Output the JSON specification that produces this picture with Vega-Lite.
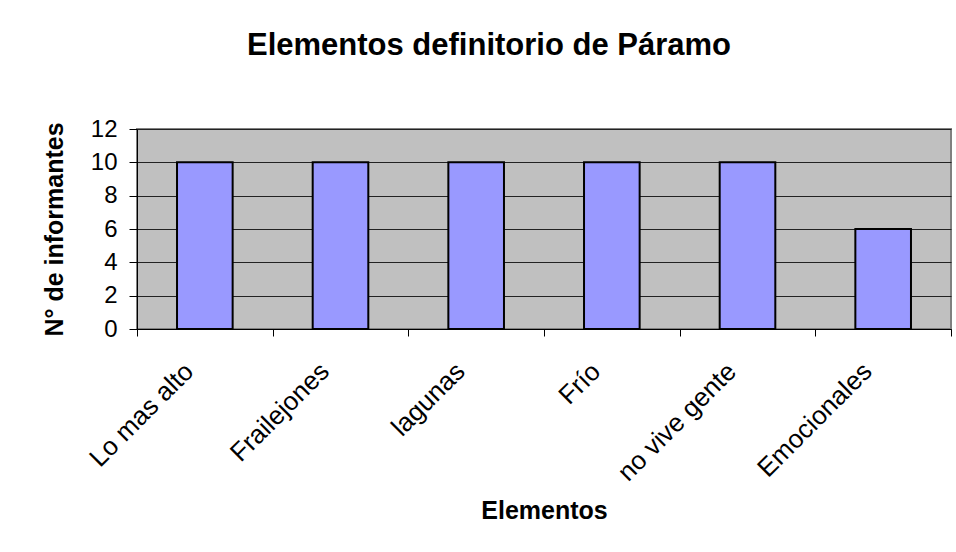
{
  "$schema": "https://vega.github.io/schema/vega-lite/v6.json",
  "width": 814,
  "height": 200,
  "autosize": {"type": "none"},
  "padding": {"left": 137, "top": 129, "right": 5, "bottom": 223},
  "background": "white",
  "title": {
    "text": "Elementos definitorio de Páramo",
    "font": "Liberation Sans",
    "fontSize": 31,
    "fontWeight": "bold",
    "color": "black",
    "anchor": "middle",
    "dx": -55,
    "offset": 31,
    "baseline": "alphabetic"
  },
  "data": {
    "values": [
      {"Elemento": "Lo mas alto", "Informantes": 10},
      {"Elemento": "Frailejones", "Informantes": 10},
      {"Elemento": "lagunas", "Informantes": 10},
      {"Elemento": "Frío", "Informantes": 10},
      {"Elemento": "no vive gente", "Informantes": 10},
      {"Elemento": "Emocionales", "Informantes": 6}
    ]
  },
  "mark": {"type": "bar", "fill": "#9999FF", "stroke": "#000000", "strokeWidth": 2, "width": {"band": 0.41}},
  "encoding": {
    "x": {
      "field": "Elemento",
      "type": "nominal",
      "sort": null,
      "scale": {"paddingInner": 0, "paddingOuter": 0},
      "axis": {
        "title": "Elementos",
        "titleFont": "Liberation Sans",
        "titleFontSize": 25,
        "titleFontWeight": "bold",
        "titleColor": "black",
        "titleY": 189,
        "titleBaseline": "alphabetic",
        "tickBand": "extent",
        "tickSize": 7,
        "tickColor": "black",
        "domainColor": "black",
        "labelAngle": -45,
        "labelAlign": "right",
        "labelBaseline": "middle",
        "labelOffset": -16,
        "labelPadding": 31,
        "labelFont": "Liberation Sans",
        "labelFontSize": 26,
        "labelColor": "black",
        "labelOverlap": false,
        "labelLimit": 0,
        "grid": false
      }
    },
    "y": {
      "field": "Informantes",
      "type": "quantitative",
      "scale": {"domain": [0, 12], "nice": false},
      "axis": {
        "values": [0, 2, 4, 6, 8, 10, 12],
        "title": "N° de informantes",
        "titleFont": "Liberation Sans",
        "titleFontSize": 25,
        "titleFontWeight": "bold",
        "titleColor": "black",
        "titleAngle": -90,
        "titleX": -75,
        "titleBaseline": "alphabetic",
        "tickSize": 8,
        "tickColor": "black",
        "domainColor": "black",
        "labelPadding": 12,
        "labelFont": "Liberation Sans",
        "labelFontSize": 24,
        "labelColor": "black",
        "grid": true,
        "gridColor": "#222222",
        "gridOpacity": 1
      }
    }
  },
  "config": {"view": {"fill": "#C0C0C0", "stroke": "#808080", "strokeWidth": 2}}
}
